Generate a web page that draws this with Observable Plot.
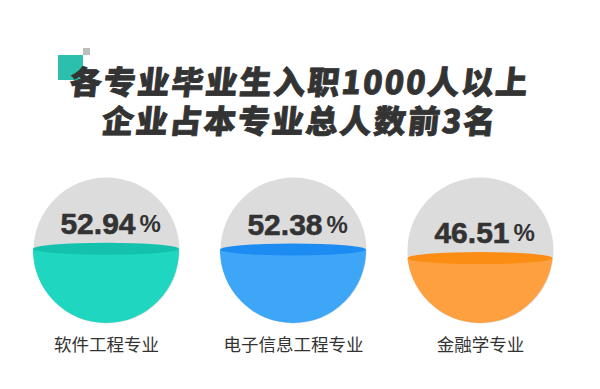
<!DOCTYPE html>
<html>
<head>
<meta charset="utf-8">
<script src="https://cdn.jsdelivr.net/npm/d3@7"></script>
<script src="https://cdn.jsdelivr.net/npm/@observablehq/plot@0.6"></script>
<style>
  html, body { margin: 0; padding: 0; background: #fff; }
  #wrap { width: 600px; height: 389px; position: relative; overflow: hidden; }
  #head { position: relative; width: 600px; height: 150px; }
  .sq1 { position: absolute; left: 58px; top: 55px; width: 25px; height: 25px; background: #2dbfae; }
  .sq2 { position: absolute; left: 83px; top: 48px; width: 7px; height: 7px; background: #bdbdbd; }
  .tl { position: absolute; left: 0; width: 600px; text-align: center; font-family: "Noto Sans CJK SC", sans-serif;
        font-weight: 900; font-size: 32px; line-height: 32px; color: #333; letter-spacing: 2px; transform: skewX(-6deg);
        -webkit-text-stroke: 0.8px #333; }
  #chart svg { display: block; }
</style>
</head>
<body>
<div id="wrap">
  <div id="head">
    <div class="sq1"></div>
    <div class="sq2"></div>
    <div class="tl" id="t1" style="top:64px"></div>
    <div class="tl" id="t2" style="top:103px"></div>
  </div>
  <div id="chart"></div>
</div>
<script>
const titleLines = ["各专业毕业生入职1000人以上", "企业占本专业总人数前3名"];
const majors = ["软件工程专业", "电子信息工程专业", "金融学专业"];
const shares = [0.5294, 0.5238, 0.4651];
const shareLabels = ["52.94", "52.38", "46.51"];
const fillColors = ["#1fd6c1", "#3ea6f7", "#ffa040"];
const bandColors = ["#14c1ac", "#1d8cf2", "#fb8c14"];

document.getElementById("t1").textContent = titleLines[0];
document.getElementById("t2").textContent = titleLines[1];

const rows = majors.map((m, i) => ({major: m, share: shares[i], label: shareLabels[i]}));
const yRange = [173, 27];
const R = (yRange[0] - yRange[1]) / 2;

const liquid = (index, scales) => {
  const g = d3.create("svg:g");
  const x = scales.x, y = scales.y;
  const r = (y(0) - y(1)) / 2;
  rows.forEach((d, i) => {
    const cx = x(d.major), cy = y(0.5);
    const level = y(d.share) + 3;
    const id = "liqclip" + i;
    g.append("clipPath").attr("id", id)
      .append("circle").attr("cx", cx).attr("cy", cy).attr("r", r);
    const gi = g.append("g").attr("clip-path", `url(#${id})`);
    gi.append("rect").attr("x", cx - r).attr("y", level)
      .attr("width", 2 * r).attr("height", y(0) - level + 2).attr("fill", fillColors[i]);
    const dd = level - cy;
    const rx = Math.sqrt(Math.max(0, r * r - dd * dd));
    gi.append("ellipse").attr("cx", cx).attr("cy", level).attr("rx", rx).attr("ry", 6)
      .attr("fill", bandColors[i]);
  });
  return g.node();
};

const plot = Plot.plot({
  width: 600,
  height: 239,
  margin: 0,
  x: {type: "point", domain: majors, range: [106, 480], padding: 0, axis: null},
  y: {domain: [0, 1], range: yRange, axis: null},
  marks: [
    Plot.dot(rows, {x: "major", y: () => 0.5, r: R, fill: "#dcdcdc", stroke: "none"}),
    liquid,
    Plot.text(rows, {x: "major", y: "share", text: "label", dy: -22, dx: 29, textAnchor: "end",
      fontFamily: "Liberation Sans, Arial, sans-serif", fontWeight: "bold", fontSize: 30, fill: "#333",
      stroke: "#333", strokeWidth: 0.6, style: "letter-spacing:1.5px"}),
    Plot.text(rows, {x: "major", y: "share", text: () => "%", dy: -22, dx: 33, textAnchor: "start",
      fontFamily: "Liberation Sans, Arial, sans-serif", fontWeight: "bold", fontSize: 24, fill: "#333"}),
    Plot.text(rows, {x: "major", y: () => 0, text: "major", dy: 22, fontFamily: "Noto Sans CJK SC, sans-serif",
      fontSize: 17.5, fill: "#333"})
  ]
});
document.getElementById("chart").appendChild(plot);
</script>
</body>
</html>
